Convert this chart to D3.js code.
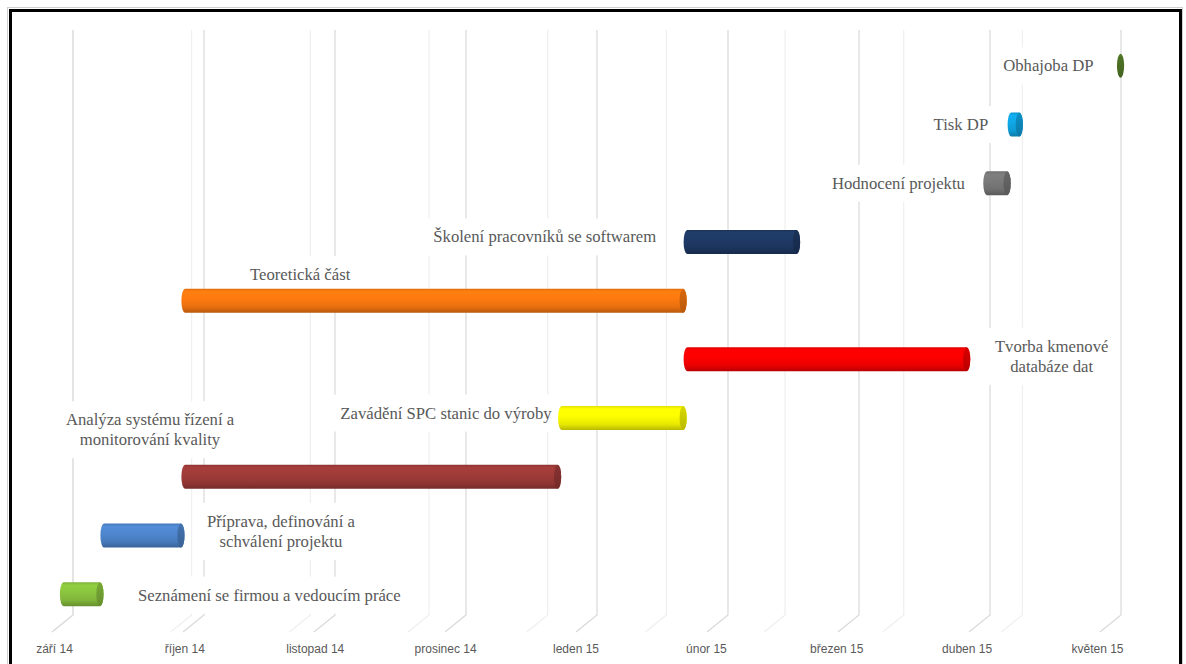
<!DOCTYPE html>
<html lang="cs">
<head>
<meta charset="utf-8">
<title>Harmonogram diplomové práce</title>
<script src="https://cdn.jsdelivr.net/npm/d3@7/dist/d3.min.js"></script>
<style>
  html, body { margin: 0; padding: 0; background: #ffffff; }
  svg { display: block; }
</style>
</head>
<body>
<svg id="chart" width="1186" height="664"></svg>
<script>
// Project tasks, listed from the bottom row of the chart upward
const categories = [
  "Seznámení se firmou a vedoucím práce",
  "Příprava, definování a schválení projektu",
  "Analýza systému řízení a monitorování kvality",
  "Zavádění SPC stanic do výroby",
  "Tvorba kmenové databáze dat",
  "Teoretická část",
  "Školení pracovníků se softwarem",
  "Hodnocení projektu",
  "Tisk DP",
  "Obhajoba DP"
];
// Label text for each task, split into lines
const labelLines = [
  ["Seznámení se firmou a vedoucím práce"],
  ["Příprava, definování a", "schválení projektu"],
  ["Analýza systému řízení a", "monitorování kvality"],
  ["Zavádění SPC stanic do výroby"],
  ["Tvorba kmenové", "databáze dat"],
  ["Teoretická část"],
  ["Školení pracovníků se softwarem"],
  ["Hodnocení projektu"],
  ["Tisk DP"],
  ["Obhajoba DP"]
];
const startDates = [
  "2014-09-01", "2014-09-11", "2014-10-01", "2015-01-02", "2015-02-02",
  "2014-10-01", "2015-02-02", "2015-04-17", "2015-04-23", "2015-05-20"
];
const endDates = [
  "2014-09-10", "2014-09-30", "2015-01-01", "2015-02-01", "2015-04-12",
  "2015-02-01", "2015-03-01", "2015-04-22", "2015-04-25", "2015-05-20"
];
const barColors = [
  "#8cc63f", "#4f87cf", "#a03b39", "#ffff00", "#ff0000",
  "#ff7a0f", "#1f3a66", "#7a7a7a", "#0fa8e8", "#5e8a2c"
];
// Axis: first tick and tick step in days, with the month labels
const axisStart = "2014-09-01";
const tickStepDays = 31;
const tickLabels = [
  "září 14", "říjen 14", "listopad 14", "prosinec 14", "leden 15",
  "únor 15", "březen 15", "duben 15", "květen 15"
];

// ---- layout ----
const parse = d3.utcParse("%Y-%m-%d");
const t0 = parse(axisStart);
const tickDates = tickLabels.map((_, i) => d3.utcDay.offset(t0, i * tickStepDays));
const tLast = tickDates[tickDates.length - 1];

// Bars sit at mid depth; the walls behind and in front are scaled by perspective
const x = d3.scaleUtc().domain([t0, tLast]).range([63.5, 1067.9]);
const xFront = d3.scaleUtc().domain([t0, tLast]).range([73, 1121]);
const xBack = d3.scaleUtc().domain([t0, tLast]).range([73, 1022.4]);
const xLabel = d3.scaleUtc().domain([t0, tLast]).range([54, 1097]);

const y = d3.scaleBand()
  .domain(categories.slice().reverse())
  .range([36.5, 623.5])
  .padding(0);

const gridTop = 30, gridBottom = 615, floorDx = -21, floorDy = 17;
const barH = 24, capRx = 3.6;

// label placement relative to the bar: which end, offsets and anchor
const labelPlacement = [
  { at: "end",   dx: 38,  dy: 1,   anchor: "start" },
  { at: "end",   dx: 100, dy: -4,  anchor: "middle" },
  { at: "start", dx: -35, dy: -47, anchor: "middle" },
  { at: "start", dx: -10, dy: -5,  anchor: "end" },
  { at: "end",   dx: 85,  dy: -3,  anchor: "middle" },
  { at: "start", dx: 65,  dy: -26, anchor: "start" },
  { at: "start", dx: -31, dy: -5,  anchor: "end" },
  { at: "start", dx: -22, dy: 0,   anchor: "end" },
  { at: "start", dx: -23, dy: 0,   anchor: "end" },
  { at: "start", dx: -27, dy: 0,   anchor: "end" }
];

const svg = d3.select("#chart");
const defs = svg.append("defs");

svg.append("rect").attr("width", 1186).attr("height", 664).attr("fill", "#ffffff");

// ---- gridlines: back set (faint) and front set, each bending onto the floor ----
const grid = svg.append("g").attr("fill", "none").attr("stroke-width", 1.2);
function gridPath(xv) {
  return `M${xv},${gridTop}L${xv},${gridBottom}L${xv + floorDx},${gridBottom + floorDy}`;
}
grid.selectAll("path.back")
  .data(tickDates)
  .join("path")
  .attr("class", "back")
  .attr("stroke", "#efefef")
  .attr("d", d => gridPath(xBack(d)));
grid.selectAll("path.front")
  .data(tickDates)
  .join("path")
  .attr("class", "front")
  .attr("stroke", "#d9d9d9")
  .attr("d", d => gridPath(xFront(d)));

// ---- axis labels ----
const axis = d3.axisBottom(xLabel)
  .tickValues(tickDates)
  .tickSize(0)
  .tickFormat((d, i) => tickLabels[i]);
const axisG = svg.append("g").attr("transform", "translate(0,641)").call(axis);
axisG.select(".domain").remove();
axisG.selectAll("text")
  .attr("fill", "#595959")
  .attr("font-family", "'Liberation Sans', Lato, sans-serif")
  .attr("font-size", "12px")
  .attr("dy", "0.71em");

// ---- rows ----
const rows = categories.map((c, i) => ({
  cat: c,
  start: parse(startDates[i]),
  end: parse(endDates[i]),
  color: barColors[i],
  lines: labelLines[i],
  place: labelPlacement[i],
  i
}));

// ---- data labels with white boxes (below the bars, above the gridlines) ----
const labels = svg.append("g")
  .attr("font-family", "'Liberation Serif', 'Times New Roman', serif")
  .attr("font-size", "16.7px")
  .attr("fill", "#595959");
const lineH = 20;
rows.forEach(r => {
  const yc = y(r.cat) + y.bandwidth() / 2;
  const ax = (r.place.at === "end" ? x(r.end) : x(r.start)) + r.place.dx;
  const ay = yc + r.place.dy;
  const lg = labels.append("g");
  const box = lg.append("rect").attr("fill", "#ffffff");
  const n = r.lines.length;
  const txt = lg.append("text")
    .attr("text-anchor", r.place.anchor);
  r.lines.forEach((ln, k) => {
    txt.append("tspan")
      .attr("x", ax)
      .attr("y", ay + (k - (n - 1) / 2) * lineH)
      .attr("dominant-baseline", "central")
      .text(ln);
  });
  const bb = txt.node().getBBox();
  box.attr("x", bb.x - 8).attr("y", bb.y - 9)
    .attr("width", bb.width + 16).attr("height", bb.height + 18);
});

// ---- bars (cylinders) ----
rows.forEach(r => {
  const base = d3.color(r.color);
  const g = defs.append("linearGradient")
    .attr("id", "grad" + r.i)
    .attr("x1", 0).attr("y1", 0).attr("x2", 0).attr("y2", 1);
  const stops = [
    [0, base.darker(0.35)],
    [0.12, base.brighter(0.12)],
    [0.4, base],
    [0.75, base.darker(0.25)],
    [1, base.darker(0.9)]
  ];
  stops.forEach(([o, c]) => g.append("stop").attr("offset", o).attr("stop-color", c.formatHex()));
  const cg = defs.append("linearGradient")
    .attr("id", "cap" + r.i)
    .attr("x1", 0).attr("y1", 0).attr("x2", 0).attr("y2", 1);
  cg.append("stop").attr("offset", 0).attr("stop-color", base.darker(0.45).formatHex());
  cg.append("stop").attr("offset", 1).attr("stop-color", base.darker(0.9).formatHex());
});

const bars = svg.append("g");
rows.forEach(r => {
  const yc = y(r.cat) + y.bandwidth() / 2;
  const x0 = x(r.start), x1 = x(r.end);
  const yt = yc - barH / 2, yb = yc + barH / 2, ry = barH / 2;
  if (x1 > x0) {
    bars.append("path")
      .attr("d", `M${x0},${yt}L${x1},${yt}A${capRx},${ry} 0 0 1 ${x1},${yb}L${x0},${yb}A${capRx},${ry} 0 0 1 ${x0},${yt}Z`)
      .attr("fill", `url(#grad${r.i})`);
  }
  bars.append("ellipse")
    .attr("cx", x1).attr("cy", yc)
    .attr("rx", capRx).attr("ry", ry)
    .attr("fill", `url(#cap${r.i})`);
});

// ---- frame ----
svg.append("rect")
  .attr("x", 7.5).attr("y", 7.5).attr("width", 1175).attr("height", 700)
  .attr("fill", "none").attr("stroke", "#cfcfcf").attr("stroke-width", 1);
svg.append("rect")
  .attr("x", 10.5).attr("y", 10.5).attr("width", 1170).attr("height", 700)
  .attr("fill", "none").attr("stroke", "#000000").attr("stroke-width", 3);
</script>
</body>
</html>
